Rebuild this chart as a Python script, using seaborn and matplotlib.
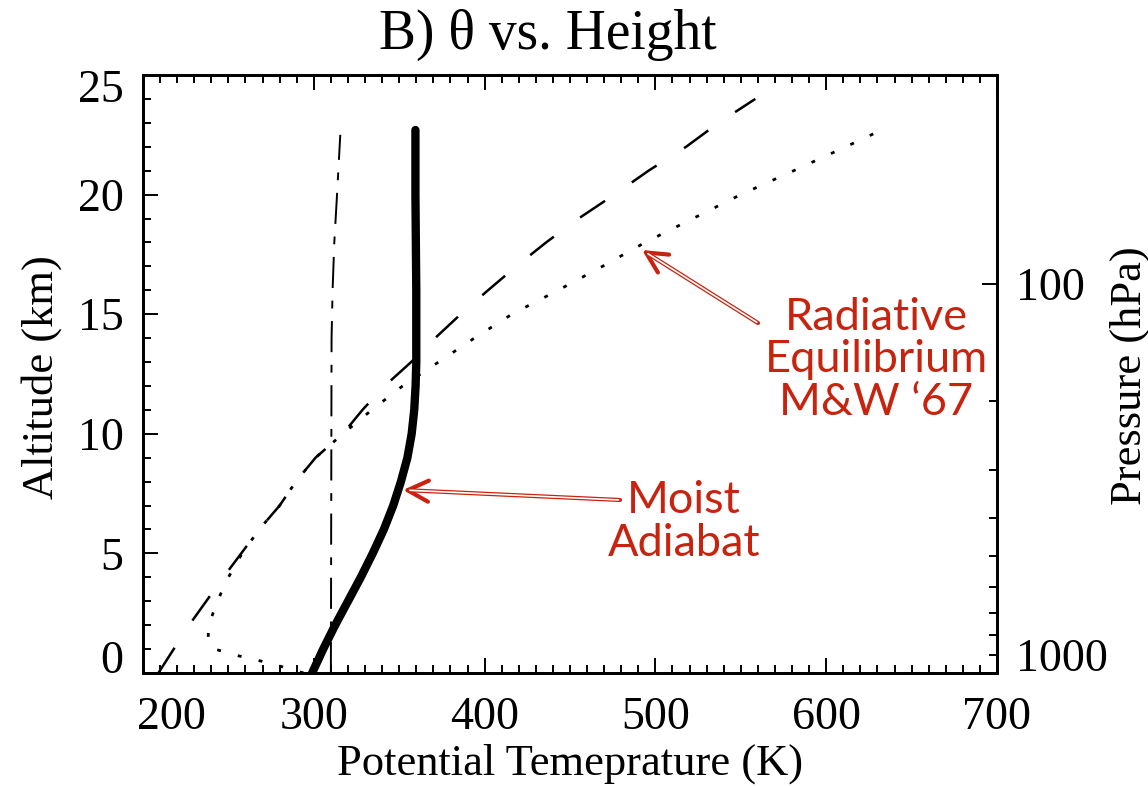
import numpy as np
import pandas as pd
import matplotlib
matplotlib.use("Agg")
import matplotlib.pyplot as plt
import matplotlib.transforms as mtransforms
import seaborn as sns
from matplotlib.ticker import MultipleLocator, FixedLocator, NullFormatter, FuncFormatter

# ---------------- data ----------------
# thick solid: moist adiabat
moist_z = [0, 1, 2, 3, 4, 5, 6, 7, 8, 9, 10, 11, 12, 13, 16, 20, 22.7]
moist_theta = [299, 305.5, 312.5, 320, 327.5, 334.5, 341, 346.5, 351, 354.8, 357.3, 358.8, 359.6, 360, 360,
               359.5, 359.5]

# dash-dot: near-constant theta
dashdot_z = [0, 14, 16, 18, 20, 22.5]
dashdot_theta = [310, 310.4, 311, 312, 313.6, 315.5]

# long dashes: radiative equilibrium (profile 1)
dashed_z = [0, 1, 2, 3, 4, 5, 6, 7, 8, 9, 10, 11, 12, 13, 14, 15, 16, 17, 18, 19, 20, 21, 22, 23, 24]
dashed_theta = [209, 218, 227, 237, 247, 257.5, 268, 280, 289.5, 301, 317, 328.5, 341.5, 357, 371, 386, 402,
                418.5, 436, 455, 476, 496, 518, 537, 558.5]

# dots: radiative equilibrium M&W '67 (profile 2)
dotted_z = [0, 0.25, 0.5, 0.75, 1.0, 1.3, 2, 3, 4, 5, 6, 7, 8, 9, 10, 11, 12, 13, 14, 15, 16, 17, 18, 19,
            20, 21, 22, 22.8]
dotted_theta = [294, 282, 269, 254, 242, 238, 238.5, 243.5, 250, 258, 268, 280, 289.5, 301, 317, 334, 352, 373,
                394, 416, 443, 469, 494, 522, 550, 581, 611.5, 635.4]

# right axis: pressure ticks, and scale height that maps them onto altitude
pressure_major = [100, 1000]
pressure_minor = [200, 300, 400, 500, 600, 700, 800, 900]
surface_pressure = 1000.0
scale_height_km = 7.06

title_text = "B) \u03b8 vs. Height"
xlabel_text = "Potential Temeprature (K)"
ylabel_text = "Altitude (km)"
y2label_text = "Pressure (hPa)"
note_re = "Radiative\nEquilibrium\nM&W \u201867"
note_ma = "Moist\nAdiabat"

RED = "#c8230f"

# ---------------- figure ----------------
sns.set_theme(style="white")
plt.rcParams["font.family"] = ["Liberation Serif", "DejaVu Serif"]
plt.rcParams["axes.linewidth"] = 2.0
plt.rcParams["axes.edgecolor"] = "black"
plt.rcParams["text.color"] = "black"
plt.rcParams["axes.labelcolor"] = "black"
plt.rcParams["xtick.color"] = "black"
plt.rcParams["ytick.color"] = "black"

fig = plt.figure(figsize=(11.48, 7.86), dpi=100)
ax = fig.add_axes([143 / 1148, 1 - 673 / 786, (997 - 143) / 1148, (673 - 75) / 786])

frames = []
for name, th, z in [("dashdot", dashdot_theta, dashdot_z), ("dashed", dashed_theta, dashed_z),
                    ("dotted", dotted_theta, dotted_z), ("moist", moist_theta, moist_z)]:
    frames.append(pd.DataFrame({"series": name, "theta": th, "z": z}))
df = pd.concat(frames, ignore_index=True)

styles = {
    "dashdot": dict(lw=1.4, linestyle=(0, (16, 6.5, 4, 6.5))),
    "dashed": dict(lw=1.8, linestyle=(0, (12, 13))),
    "dotted": dict(lw=2.0, linestyle=(0, (1.4, 6.3))),
    "moist": dict(lw=6.0, linestyle="-", solid_capstyle="round"),
}
for name in ["dashdot", "dashed", "dotted", "moist"]:
    sub = df[df.series == name]
    sns.lineplot(data=sub, x="theta", y="z", sort=False, estimator=None, color="black", ax=ax,
                 **styles[name])

ax.set_xlim(200, 700)
ax.set_ylim(0, 25)
ax.xaxis.set_major_locator(MultipleLocator(100))
ax.xaxis.set_minor_locator(MultipleLocator(10))
ax.yaxis.set_major_locator(MultipleLocator(5))
ax.yaxis.set_minor_locator(MultipleLocator(1))
ax.tick_params(which="both", direction="in", top=True, right=False, bottom=True, left=True,
               width=1.4, colors="black", labelsize=33)
ax.tick_params(which="major", length=11)
ax.tick_params(which="minor", length=5.5)
ax.tick_params(axis="x", pad=17)
ax.tick_params(axis="y", pad=14)
for s in ax.spines.values():
    s.set_visible(True)
    s.set_linewidth(2.0)
    s.set_color("black")

ax.set_xlabel(xlabel_text, fontsize=32)
ax.xaxis.set_label_coords(0.5, -0.118)
ax.set_ylabel(ylabel_text, fontsize=32)
ax.yaxis.set_label_coords(-0.095, 0.495)

# right pressure axis (log pressure is linear in altitude)
ax2 = ax.twinx()
ax2.set_yscale("log")
ax2.set_ylim(surface_pressure, surface_pressure * np.exp(-25 / scale_height_km))
ax2.yaxis.set_major_locator(FixedLocator(pressure_major))
ax2.yaxis.set_minor_locator(FixedLocator(pressure_minor))
ax2.yaxis.set_major_formatter(FuncFormatter(lambda v, p: f"{v:.0f}"))
ax2.yaxis.set_minor_formatter(NullFormatter())
ax2.tick_params(which="both", direction="in", width=1.4, colors="black", labelsize=33, pad=14)
ax2.tick_params(which="major", length=11)
ax2.tick_params(which="minor", length=5.5)
ax2.grid(False)
for s in ax2.spines.values():
    s.set_linewidth(2.0)
    s.set_color("black")
ax2.set_ylabel(y2label_text, fontsize=32)
ax2.yaxis.set_label_coords(1.132, 0.498)

fig.text(547.5 / 1148, 1 - 35 / 786, title_text, fontsize=40, ha="center", va="center")

# ---------------- red annotations ----------------
def px2data(x, y):
    return 200 + (x - 143) / (854 / 500), (673 - y) / (598 / 25)

def double_arrow(tail, head):
    ax.annotate("", xy=head, xytext=tail,
                arrowprops=dict(arrowstyle="->,head_length=0.75,head_width=0.38", color=RED, lw=3.0,
                                shrinkA=0, shrinkB=0, mutation_scale=20), zorder=5)
    ax.annotate("", xy=head, xytext=tail,
                arrowprops=dict(arrowstyle="-", color="white", lw=1.2, shrinkA=1, shrinkB=5), zorder=6)

double_arrow(px2data(758, 323), px2data(642, 250))
double_arrow(px2data(620, 500), px2data(403, 490))

tx, ty = px2data(876, 360)
ax.text(tx, ty, note_re, color=RED, fontsize=32.5, family=["Lato", "DejaVu Sans"], ha="center", va="center",
        linespacing=1.05, zorder=7)
tx, ty = px2data(684, 522)
ax.text(tx, ty, note_ma, color=RED, fontsize=32.5, family=["Lato", "DejaVu Sans"], ha="center", va="center",
        linespacing=1.05, zorder=7)

# nudge the corner tick labels away from each other, as in the reference (offsets in pixels)
fig.canvas.draw()

def nudge(label, dx_px, dy_px):
    off = mtransforms.ScaledTranslation(dx_px / fig.dpi, dy_px / fig.dpi, fig.dpi_scale_trans)
    label.set_transform(label.get_transform() + off)

for t in ax.xaxis.get_major_ticks():
    if abs(t.get_loc() - 200) < 1e-6:
        nudge(t.label1, 28, 0)
for t in ax.yaxis.get_major_ticks():
    if abs(t.get_loc() - 0) < 1e-6:
        nudge(t.label1, 0, 16)
    if abs(t.get_loc() - 25) < 1e-6:
        nudge(t.label1, 0, -11)
for t in ax2.yaxis.get_major_ticks():
    if abs(t.get_loc() - 1000) < 1e-6:
        nudge(t.label2, 0, 18)

fig.savefig("out.png", dpi=100, facecolor="white")
